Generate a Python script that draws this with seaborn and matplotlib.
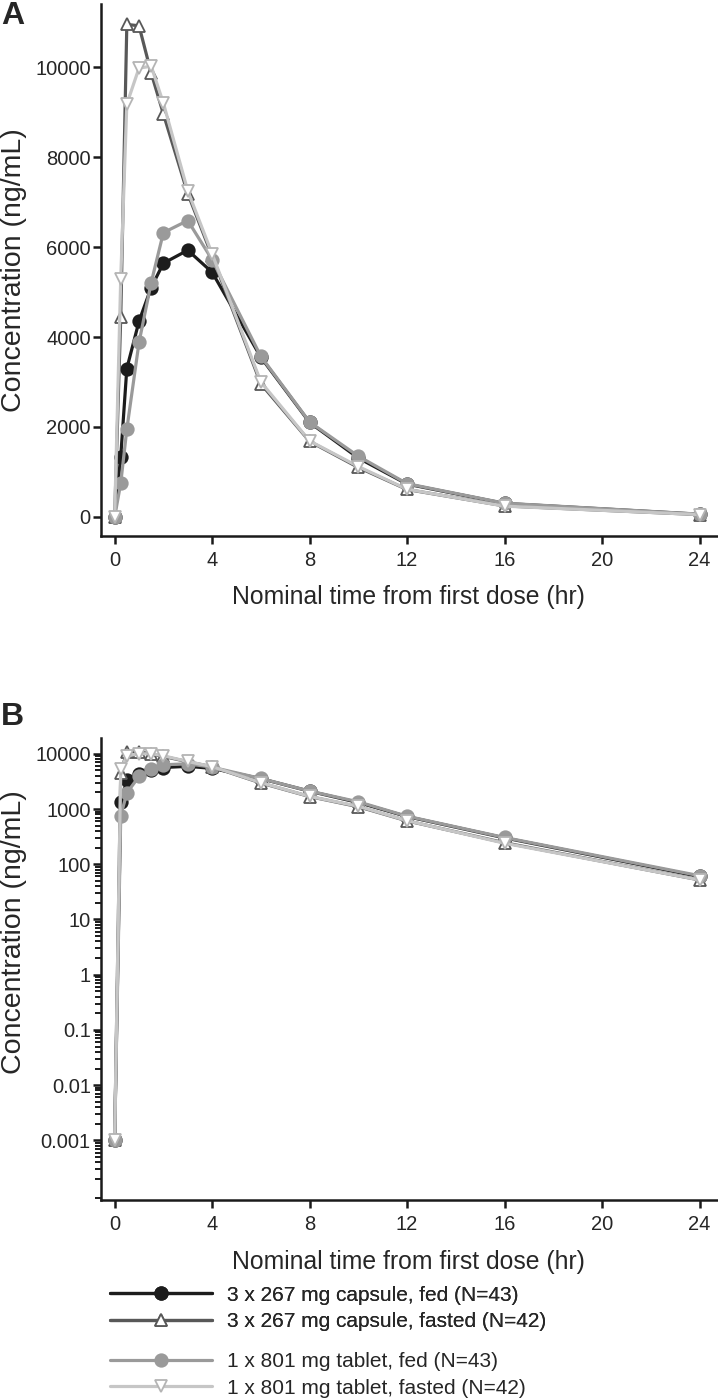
import matplotlib
matplotlib.use("Agg")
import matplotlib.pyplot as plt
import seaborn as sns
import pandas as pd
from matplotlib.ticker import FixedLocator, FixedFormatter, NullFormatter

# nominal sampling times (hr)
times = [0, 0.25, 0.5, 1, 1.5, 2, 3, 4, 6, 8, 10, 12, 16, 24]

# mean concentrations (ng/mL)
capsule_fed = [0, 1340, 3300, 4350, 5100, 5640, 5930, 5440, 3550, 2100, 1310, 730, 300, 60]
capsule_fasted = [0, 4440, 10950, 10920, 9870, 8960, 7190, 5800, 2960, 1680, 1100, 610, 245, 52]
tablet_fed = [0, 750, 1950, 3880, 5210, 6320, 6590, 5720, 3570, 2110, 1350, 740, 305, 62]
tablet_fasted = [0, 5300, 9180, 9980, 10020, 9200, 7250, 5850, 3000, 1690, 1120, 615, 240, 52]

labels = ["3 x 267 mg capsule, fed (N=43)",
          "3 x 267 mg capsule, fasted (N=42)",
          "1 x 801 mg tablet, fed (N=43)",
          "1 x 801 mg tablet, fasted (N=42)"]

# zero (predose) values shown at 0.001 on the log panel
log_floor = 0.001

lin_ticks = [0, 2000, 4000, 6000, 8000, 10000]
log_ticks = [0.001, 0.01, 0.1, 1, 10, 100, 1000, 10000]
log_ticklabels = ["0.001", "0.01", "0.1", "1", "10", "100", "1000", "10000"]
x_ticks = [0, 4, 8, 12, 16, 20, 24]

sns.set_style("ticks")
plt.rcParams['font.family'] = ['Liberation Sans', 'DejaVu Sans']

styles = [
    dict(color="#1c1c1c", marker="o", mfc="#1c1c1c", mec="#1c1c1c"),
    dict(color="#585858", marker="^", mfc="white", mec="#585858"),
    dict(color="#9a9a9a", marker="o", mfc="#9a9a9a", mec="#9a9a9a"),
    dict(color="#c6c6c6", marker="v", mfc="white", mec="#b4b4b4"),
]
series = [capsule_fed, capsule_fasted, tablet_fed, tablet_fasted]

fig = plt.figure(figsize=(7.18, 13.99), dpi=100)
axA = fig.add_axes([0.141, 0.617, 0.857, 0.380])
axB = fig.add_axes([0.141, 0.1422, 0.857, 0.330])


def draw(ax, log=False):
    for vals, st, lab in zip(series, styles, labels):
        y = [log_floor if (log and v == 0) else v for v in vals]
        df = pd.DataFrame({"t": times, "c": y})
        sns.lineplot(data=df, x="t", y="c", ax=ax, color=st["color"], marker=st["marker"],
                     markerfacecolor=st["mfc"], markeredgecolor=st["mec"], markeredgewidth=1.3,
                     markersize=9, linewidth=2.3, label=lab, legend=False)
    ax.set_xlim(-0.55, 24.7)
    ax.set_xticks(x_ticks)
    ax.set_xlabel("Nominal time from first dose (hr)", fontsize=17.8, labelpad=11)
    ax.set_ylabel("Concentration (ng/mL)", fontsize=20.5)
    for s in ["top", "right"]:
        ax.spines[s].set_visible(False)
    for s in ["left", "bottom"]:
        ax.spines[s].set_linewidth(1.8)
        ax.spines[s].set_color("#1a1a1a")
    ax.tick_params(axis="both", which="major", direction="out", length=6, width=1.8,
                   labelsize=14.5, color="#1a1a1a")
    ax.tick_params(axis="x", pad=5)
    ax.tick_params(axis="y", pad=1.5)


draw(axA)
axA.set_ylim(-420, 11400)
axA.set_yticks(lin_ticks)
axA.yaxis.set_label_coords(-0.12, 0.5)

draw(axB, log=True)
axB.set_yscale("log")
axB.set_ylim(8.3e-5, 1.9e4)
axB.yaxis.set_major_locator(FixedLocator(log_ticks))
axB.yaxis.set_major_formatter(FixedFormatter(log_ticklabels))
axB.yaxis.set_minor_formatter(NullFormatter())
axB.tick_params(axis="y", which="minor", direction="out", length=4, width=1.4, color="#1a1a1a")
axB.yaxis.set_label_coords(-0.12, 0.58)

fig.text(0.001, 0.999, "A", fontsize=23, fontweight="bold", va="top", ha="left")
fig.text(0.001, 0.498, "B", fontsize=23, fontweight="bold", va="top", ha="left")

lines = axA.get_lines()
leg_kw = dict(frameon=False, fontsize=15, handlelength=4.9, handletextpad=0.7,
              labelspacing=0.36, borderpad=0, borderaxespad=0, loc="upper left")
leg1 = fig.legend(lines[:2], labels[:2], bbox_to_anchor=(0.153, 0.081), **leg_kw)
leg2 = fig.legend(lines[2:], labels[2:], bbox_to_anchor=(0.153, 0.0335), **leg_kw)
fig.add_artist(leg1)

fig.savefig("out.png", dpi=100)
